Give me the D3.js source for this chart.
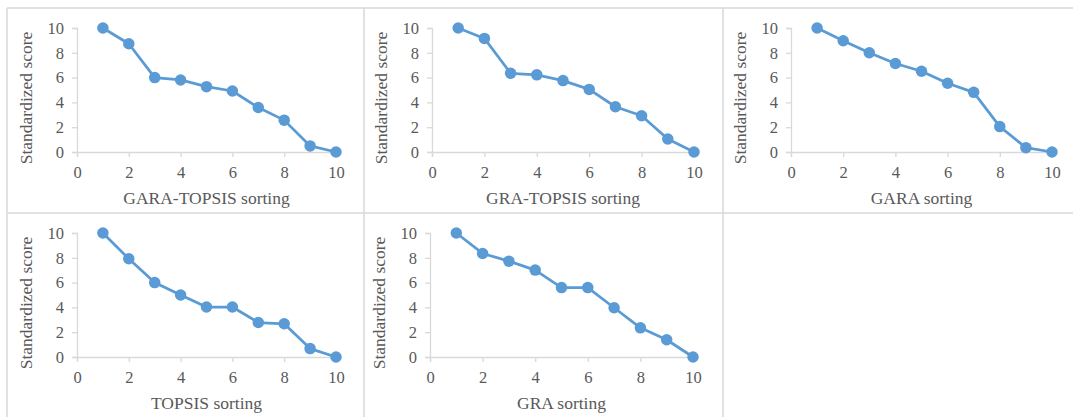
<!DOCTYPE html>
<html lang="en">
  <head>
    <meta charset="UTF-8" />
    <title>Standardized score by sorting method</title>
    <script src="https://d3js.org/d3.v7.min.js"></script>
    <style>
      body {
        margin: 0;
        background-color: #fff;
      }
    </style>
  </head>
  <body>
    <div id="chart"></div>
    <script>
      // data
      const ranks = [1, 2, 3, 4, 5, 6, 7, 8, 9, 10];
      const titles = [
        "GARA-TOPSIS sorting",
        "GRA-TOPSIS sorting",
        "GARA sorting",
        "TOPSIS sorting",
        "GRA sorting",
      ];
      const garaTopsis = [10, 8.73, 6.0, 5.81, 5.27, 4.92, 3.59, 2.57, 0.49, 0];
      const graTopsis = [10, 9.16, 6.35, 6.22, 5.76, 5.05, 3.65, 2.92, 1.05, 0];
      const gara = [10, 8.97, 8.0, 7.14, 6.51, 5.54, 4.81, 2.05, 0.35, 0];
      const topsis = [10, 7.92, 6.0, 5.0, 4.03, 4.03, 2.78, 2.68, 0.68, 0];
      const gra = [10, 8.35, 7.73, 7.01, 5.6, 5.6, 3.97, 2.35, 1.39, 0];
      const seriesList = [garaTopsis, graTopsis, gara, topsis, gra];
      const xTicks = [0, 2, 4, 6, 8, 10];
      const yTicks = [0, 2, 4, 6, 8, 10];

      const width = 1073;
      const height = 417;
      const blue = "#5b9bd5";
      const textGrey = "#595959";
      const gridGrey = "#d9d9d9";
      const font = "Liberation Serif";

      const svg = d3
        .select("#chart")
        .append("svg")
        .attr("width", width)
        .attr("height", height)
        .attr("font-family", font);

      // table-like cell borders
      const colX = [7, 364, 723];
      const rowY = [8, 213];
      const borders = svg.append("g").attr("stroke", gridGrey).attr("stroke-width", 1.5);
      colX.forEach((x) => {
        borders.append("line").attr("x1", x).attr("x2", x).attr("y1", 8).attr("y2", height);
      });
      rowY.forEach((y) => {
        borders.append("line").attr("x1", 7).attr("x2", width).attr("y1", y).attr("y2", y);
      });

      // plot area inside each cell
      const cells = [
        { x: 7, y: 8, left: 70, w: 259 },
        { x: 364, y: 8, left: 68, w: 262 },
        { x: 723, y: 8, left: 68, w: 261 },
        { x: 7, y: 213, left: 70, w: 259 },
        { x: 364, y: 213, left: 66, w: 263 },
      ];
      const plotTop = 20;
      const plotH = 124;

      seriesList.forEach((values, i) => {
        const c = cells[i];
        const g = svg
          .append("g")
          .attr("transform", `translate(${c.x + c.left}, ${c.y + plotTop})`);

        const x = d3.scaleLinear().domain([0, 10]).range([0, c.w]);
        const y = d3.scaleLinear().domain([0, 10]).range([plotH, 0]);

        const xAxis = g
          .append("g")
          .attr("transform", `translate(0, ${plotH})`)
          .call(d3.axisBottom(x).tickValues(xTicks).tickSize(5).tickPadding(6));
        const yAxis = g
          .append("g")
          .call(d3.axisLeft(y).tickValues(yTicks).tickSize(5).tickPadding(8));

        [xAxis, yAxis].forEach((ax) => {
          ax.attr("font-family", font).attr("font-size", 16.5);
          ax.select(".domain").attr("stroke", gridGrey).attr("stroke-width", 1.3);
          ax.selectAll(".tick line").attr("stroke", gridGrey).attr("stroke-width", 1.3);
          ax.selectAll(".tick text").attr("fill", textGrey);
        });
        xAxis.selectAll(".tick text").attr("dy", "0.9em");

        // x axis title
        g.append("text")
          .attr("x", c.w / 2)
          .attr("y", plotH + 48)
          .attr("text-anchor", "middle")
          .attr("dominant-baseline", "middle")
          .attr("fill", textGrey)
          .attr("font-size", 17.5)
          .text(titles[i]);

        // y axis title
        g.append("text")
          .attr("transform", `translate(${-49}, ${plotH / 2 + 8}) rotate(-90)`)
          .attr("text-anchor", "middle")
          .attr("dominant-baseline", "middle")
          .attr("fill", textGrey)
          .attr("font-size", 17.5)
          .text("Standardized score");

        const line = d3
          .line()
          .x((d, j) => x(ranks[j]))
          .y((d) => y(d));

        g.append("path")
          .datum(values)
          .attr("d", line)
          .attr("fill", "none")
          .attr("stroke", blue)
          .attr("stroke-width", 2.75)
          .attr("stroke-linejoin", "round");

        g.selectAll("circle")
          .data(values)
          .enter()
          .append("circle")
          .attr("cx", (d, j) => x(ranks[j]))
          .attr("cy", (d) => y(d))
          .attr("r", 5.75)
          .attr("fill", blue);
      });
    </script>
  </body>
</html>
